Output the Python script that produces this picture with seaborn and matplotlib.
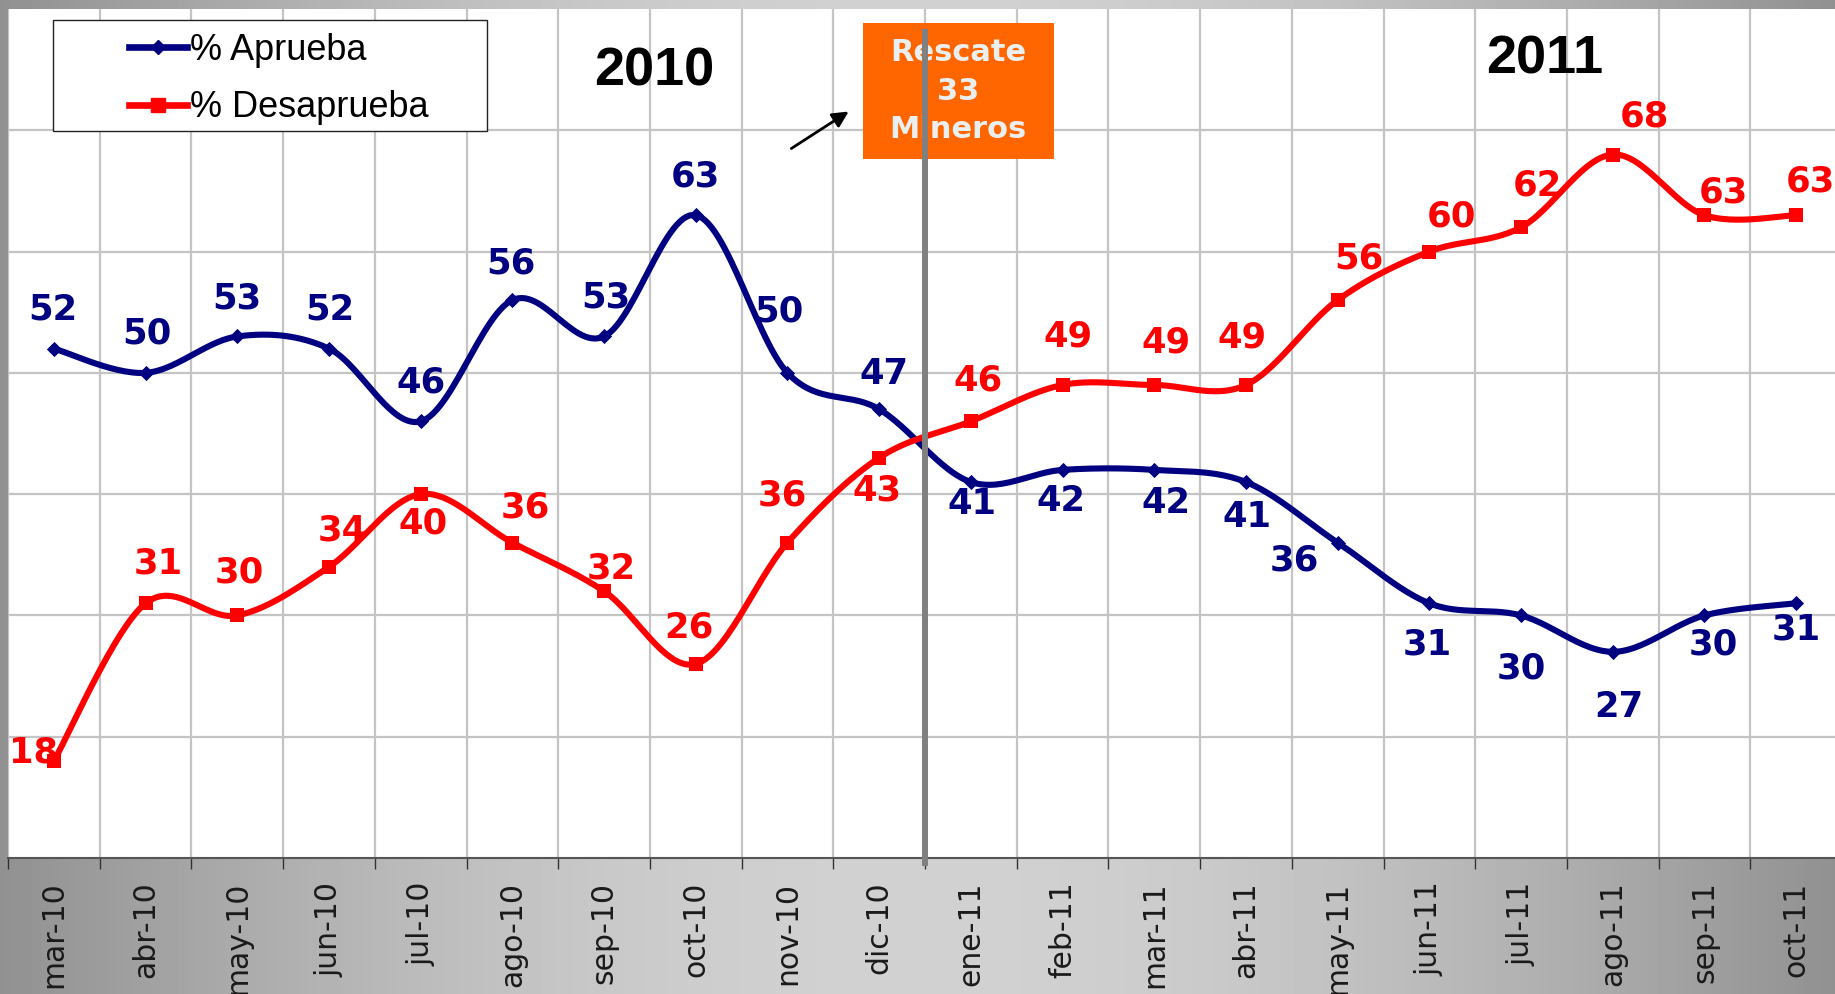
import numpy as np
import pandas as pd
import seaborn as sns
import matplotlib.pyplot as plt
from matplotlib.lines import Line2D
from matplotlib.patches import Rectangle

# ==========================================
# 1. DATOS
# ==========================================
meses = ['mar-10', 'abr-10', 'may-10', 'jun-10', 'jul-10', 'ago-10', 'sep-10',
         'oct-10', 'nov-10', 'dic-10', 'ene-11', 'feb-11', 'mar-11', 'abr-11',
         'may-11', 'jun-11', 'jul-11', 'ago-11', 'sep-11', 'oct-11']
aprueba = [52, 50, 53, 52, 46, 56, 53, 63, 50, 47, 41, 42, 42, 41, 36, 31, 30, 27, 30, 31]
desaprueba = [18, 31, 30, 34, 40, 36, 32, 26, 36, 43, 46, 49, 49, 49, 56, 60, 62, 68, 63, 63]

# desplazamiento de cada etiqueta (pixeles) respecto a su punto
off_aprueba = [(-1, 39), (1, 39), (0, 38), (1, 39), (0, 39), (-1, 37), (2, 39), (0, 39),
               (-9, 61), (5, 35), (1, -22), (-2, -31), (12, -33), (1, -35), (-43, -18),
               (-2, -41), (0, -53), (6, -55), (9, -29), (0, -26)]
off_desaprueba = [(-20, 8), (13, 40), (2, 43), (13, 36), (2, -29), (13, 35), (7, 23),
                  (-7, 36), (-5, 47), (-2, -33), (7, 41), (5, 48), (12, 42), (-4, 47),
                  (21, 42), (22, 35), (16, 42), (32, 38), (19, 23), (14, 34)]

AZUL = '#000080'
ROJO = '#ff0000'
W, H = 1835, 994


def suavizar(vals, n=30):
    # curva suavizada tipo Excel (Bezier / Catmull-Rom)
    pts = np.column_stack([np.arange(len(vals)), np.asarray(vals, float)])
    t = np.linspace(0, 1, n)[:, None]
    tramos = []
    for i in range(len(pts) - 1):
        p0 = pts[max(i - 1, 0)]
        p1 = pts[i]
        p2 = pts[i + 1]
        p3 = pts[min(i + 2, len(pts) - 1)]
        c1 = p1 + (p2 - p0) / 6
        c2 = p2 - (p3 - p1) / 6
        seg = (1 - t) ** 3 * p1 + 3 * (1 - t) ** 2 * t * c1 + 3 * (1 - t) * t ** 2 * c2 + t ** 3 * p2
        tramos.append(seg if i == 0 else seg[1:])
    return np.vstack(tramos)


# ==========================================
# 2. FIGURA Y FONDO
# ==========================================
fig = plt.figure(figsize=(W / 100, H / 100), dpi=100)

fondo = fig.add_axes([0, 0, 1, 1], zorder=-10)
xx = np.linspace(0, 1, 400)
grad = 0.57 + 0.25 * np.sin(np.pi * xx)
fondo.imshow(np.tile(grad, (10, 1)), cmap='gray', vmin=0, vmax=1, aspect='auto',
             extent=[0, 1, 0, 1])
fondo.axis('off')

ax = fig.add_axes([8 / W, 136 / H, 1834 / W, 849 / H])
ax.set_facecolor('white')

# ==========================================
# 3. SERIES
# ==========================================
curva_a = suavizar(aprueba)
curva_d = suavizar(desaprueba)
df_a = pd.DataFrame({'x': curva_a[:, 0], 'y': curva_a[:, 1]})
df_d = pd.DataFrame({'x': curva_d[:, 0], 'y': curva_d[:, 1]})

sns.lineplot(data=df_a, x='x', y='y', sort=False, estimator=None, color=AZUL,
             lw=4.4, ax=ax, zorder=4)
sns.lineplot(data=df_d, x='x', y='y', sort=False, estimator=None, color=ROJO,
             lw=4.4, ax=ax, zorder=4)

idx = np.arange(len(meses))
sns.scatterplot(x=idx, y=aprueba, marker='D', s=60, color=AZUL, edgecolor=AZUL,
                linewidth=0, ax=ax, zorder=5)
sns.scatterplot(x=idx, y=desaprueba, marker='s', s=110, color=ROJO, edgecolor=ROJO,
                linewidth=0, ax=ax, zorder=5)

for i in idx:
    ax.annotate(str(aprueba[i]), (i, aprueba[i]), xytext=off_aprueba[i],
                textcoords='offset pixels', ha='center', va='center',
                fontsize=25.5, fontweight='bold', color=AZUL, zorder=3)
    ax.annotate(str(desaprueba[i]), (i, desaprueba[i]), xytext=off_desaprueba[i],
                textcoords='offset pixels', ha='center', va='center',
                fontsize=25.5, fontweight='bold', color=ROJO, zorder=3)

# ==========================================
# 4. EJES Y GRILLA
# ==========================================
ax.set_xlim(-0.5, len(meses) - 0.5)
ax.set_ylim(10, 80)
ax.set_xticks(idx)
ax.set_xticklabels(meses, rotation=90, fontsize=21.5, color='#1a1a1a')
ax.set_xticks(np.arange(-0.5, len(meses), 1), minor=True)
ax.set_yticks(np.arange(20, 80, 10))
ax.set_yticklabels([])
ax.tick_params(axis='x', which='major', length=0, pad=17)
ax.tick_params(axis='x', which='minor', length=8, width=1, color='#333333')
ax.tick_params(axis='y', length=0)
ax.grid(True, axis='y', color='#c4c4c4', lw=1.6)
ax.grid(True, axis='x', which='minor', color='#c4c4c4', lw=1.6)
ax.set_axisbelow(True)
ax.set_xlabel('')
ax.set_ylabel('')
for lado in ['top', 'left', 'right']:
    ax.spines[lado].set_visible(False)
ax.spines['bottom'].set_color('#555555')
ax.spines['bottom'].set_linewidth(1.5)

# ==========================================
# 5. ANOTACIONES
# ==========================================
fig.text(654 / W, 1 - 71 / H, '2010', ha='center', va='center', fontsize=39,
         fontweight='bold', family='Liberation Sans', color='black')
fig.text(1545 / W, 1 - 59 / H, '2011', ha='center', va='center', fontsize=39,
         fontweight='bold', family='Liberation Sans', color='black')

# recuadro "Rescate 33 Mineros" (la linea gris pasa por encima)
ax.add_patch(Rectangle((863 / W, 1 - 159 / H), 191 / W, 136 / H,
                       transform=fig.transFigure, facecolor='#ff6600',
                       edgecolor='none', clip_on=False, zorder=6))
ax.text(958 / W, 1 - 91 / H, 'Rescate\n33\nMineros', transform=fig.transFigure,
        ha='center', va='center', fontsize=22, fontweight='bold', color='#eceff0',
        linespacing=1.42, zorder=7)

ax.axvline(9.5, ymin=-0.006, ymax=0.973, color='#808080', lw=4.3, clip_on=False, zorder=8)

ax.annotate('', xy=(851, H - 110), xytext=(789, H - 150), xycoords='figure pixels',
            textcoords='figure pixels',
            arrowprops=dict(arrowstyle='-|>', color='black', lw=2, mutation_scale=24))

# leyenda
fig.patches.append(Rectangle((53 / W, 1 - 131 / H), 434 / W, 111 / H,
                             transform=fig.transFigure, facecolor='white',
                             edgecolor='#222222', lw=1, zorder=6))
handles = [Line2D([], [], color=AZUL, lw=4.8, marker='D', ms=7),
           Line2D([], [], color=ROJO, lw=4.8, marker='s', ms=10)]
leg = fig.legend(handles, ['% Aprueba', '% Desaprueba'], loc='center left',
                 bbox_to_anchor=(129 / W, 1 - 79 / H), frameon=False,
                 borderpad=0, borderaxespad=0, handlelength=1.6, handletextpad=0.1,
                 labelspacing=0.62,
                 prop={'family': 'Liberation Sans', 'size': 26})
leg.set_zorder(7)

plt.savefig('out.png', dpi=100)
